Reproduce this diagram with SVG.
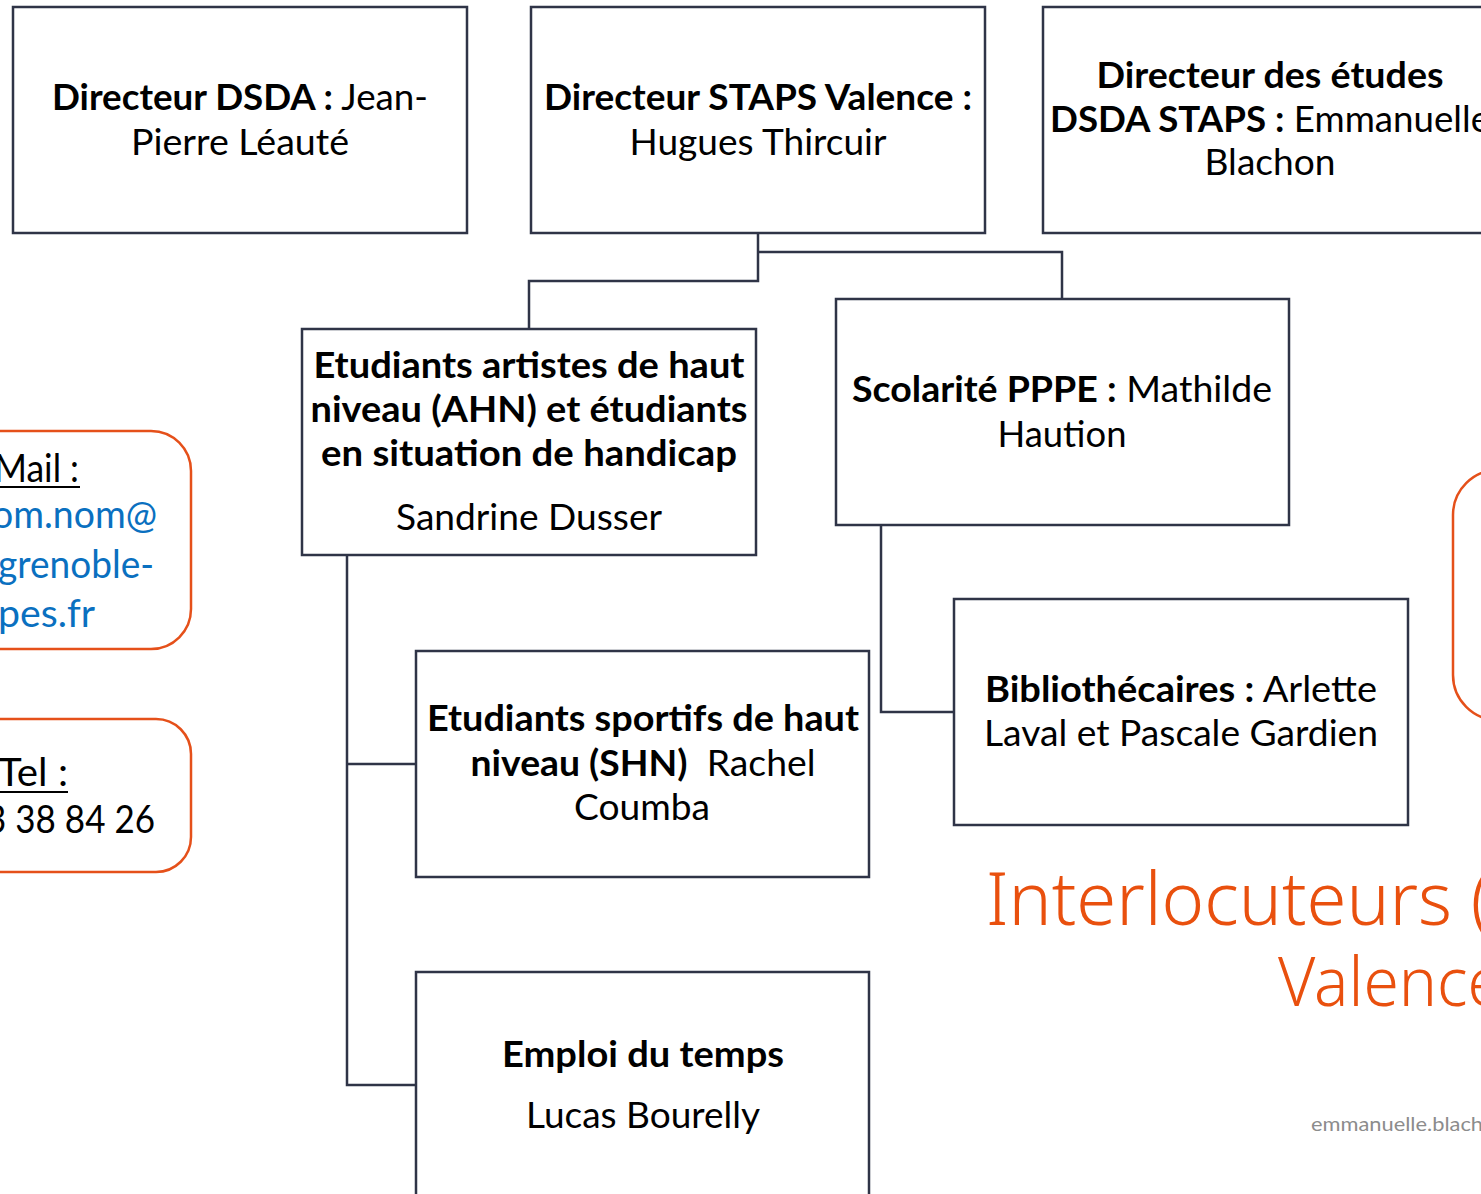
<svg xmlns="http://www.w3.org/2000/svg" width="1481" height="1194" viewBox="0 0 1481 1194">
<style>
.box{fill:#fff;stroke:#2f3447;stroke-width:2.5}
.ob{fill:none;stroke:#e5501a;stroke-width:2.5}
.con{fill:none;stroke:#2f3447;stroke-width:2.5}
.t{font-family:Lato,"Liberation Sans",sans-serif;font-size:36px;fill:#000;text-anchor:middle}
.b{font-weight:bold}
.l{font-family:Lato,"Liberation Sans",sans-serif;font-size:38px;fill:#000}
.blue{fill:#0a70c0}
.hand{font-family:"Noto Sans","DejaVu Sans",sans-serif;font-weight:300;fill:#e9500e}
.foot{font-family:Lato,"Liberation Sans",sans-serif;font-size:20px;fill:#8c8c8c}
</style>
<rect width="1481" height="1194" fill="#fff"/>
<g id="connectors">
<path class="con" d="M758 233 V281 H529 V329"/>
<path class="con" d="M758 252 H1062 V299"/>
<path class="con" d="M347 555 V1085 H416"/>
<path class="con" d="M347 764 H416"/>
<path class="con" d="M881 525 V712 H954"/>
</g>
<g id="dir-dsda">
<rect class="box" x="13" y="7" width="454" height="226"/>
<text class="t" x="240" y="110" textLength="376" lengthAdjust="spacingAndGlyphs"><tspan class="b">Directeur DSDA :</tspan> Jean-</text>
<text class="t" x="240" y="155" textLength="218" lengthAdjust="spacingAndGlyphs">Pierre Léauté</text>
</g>
<g id="dir-staps">
<rect class="box" x="531" y="7" width="454" height="226"/>
<text class="t" x="758" y="110" textLength="428" lengthAdjust="spacingAndGlyphs"><tspan class="b">Directeur STAPS Valence :</tspan></text>
<text class="t" x="758" y="155" textLength="257" lengthAdjust="spacingAndGlyphs">Hugues Thircuir</text>
</g>
<g id="dir-etudes">
<rect class="box" x="1043" y="7" width="454" height="226"/>
<text class="t b" x="1270" y="88" textLength="347" lengthAdjust="spacingAndGlyphs">Directeur des études</text>
<text class="t" x="1270" y="132" textLength="440" lengthAdjust="spacingAndGlyphs"><tspan class="b">DSDA STAPS :</tspan> Emmanuelle</text>
<text class="t" x="1270" y="175" textLength="131" lengthAdjust="spacingAndGlyphs">Blachon</text>
</g>
<g id="ahn">
<rect class="box" x="302" y="329" width="454" height="226"/>
<text class="t b" x="529" y="378" textLength="431" lengthAdjust="spacingAndGlyphs">Etudiants artistes de haut</text>
<text class="t b" x="529" y="422" textLength="437" lengthAdjust="spacingAndGlyphs">niveau (AHN) et étudiants</text>
<text class="t b" x="529" y="466" textLength="416" lengthAdjust="spacingAndGlyphs">en situation de handicap</text>
<text class="t" x="529" y="530" textLength="266" lengthAdjust="spacingAndGlyphs">Sandrine Dusser</text>
</g>
<g id="scolarite">
<rect class="box" x="836" y="299" width="453" height="226"/>
<text class="t" x="1062" y="402" textLength="420" lengthAdjust="spacingAndGlyphs"><tspan class="b">Scolarité PPPE :</tspan> Mathilde</text>
<text class="t" x="1062" y="447" textLength="129" lengthAdjust="spacingAndGlyphs">Haution</text>
</g>
<g id="biblio">
<rect class="box" x="954" y="599" width="454" height="226"/>
<text class="t" x="1181" y="702" textLength="392" lengthAdjust="spacingAndGlyphs"><tspan class="b">Bibliothécaires :</tspan> Arlette</text>
<text class="t" x="1181" y="746" textLength="394" lengthAdjust="spacingAndGlyphs">Laval et Pascale Gardien</text>
</g>
<g id="shn">
<rect class="box" x="416" y="651" width="453" height="226"/>
<text class="t b" x="643" y="731" textLength="432" lengthAdjust="spacingAndGlyphs">Etudiants sportifs de haut</text>
<text class="t" x="643" y="776" textLength="345" lengthAdjust="spacingAndGlyphs"><tspan class="b">niveau (SHN)</tspan>&#160; Rachel</text>
<text class="t" x="642" y="820" textLength="136" lengthAdjust="spacingAndGlyphs">Coumba</text>
</g>
<g id="emploi">
<rect class="box" x="416" y="972" width="453" height="240"/>
<text class="t b" x="643" y="1067" textLength="282" lengthAdjust="spacingAndGlyphs">Emploi du temps</text>
<text class="t" x="643" y="1128" textLength="234" lengthAdjust="spacingAndGlyphs">Lucas Bourelly</text>
</g>
<g id="mail">
<rect class="ob" x="-40" y="431" width="231" height="218" rx="40"/>
<text class="l" x="-6" y="482" textLength="85" lengthAdjust="spacingAndGlyphs">Mail :</text>
<line x1="0" y1="487" x2="80" y2="487" stroke="#000" stroke-width="2"/>
<text class="l blue" x="-8" y="528" textLength="165" lengthAdjust="spacingAndGlyphs">om.nom@</text>
<text class="l blue" x="-2" y="578" textLength="156" lengthAdjust="spacingAndGlyphs">grenoble-</text>
<text class="l blue" x="-2" y="627" textLength="97" lengthAdjust="spacingAndGlyphs">pes.fr</text>
</g>
<g id="tel">
<rect class="ob" x="-40" y="719" width="231" height="153" rx="35"/>
<text class="l" x="-2" y="786" textLength="70" lengthAdjust="spacingAndGlyphs">Tel :</text>
<line x1="0" y1="792" x2="68" y2="792" stroke="#000" stroke-width="2"/>
<text class="l" x="-14" y="833" textLength="169" lengthAdjust="spacingAndGlyphs">3 38 84 26</text>
</g>
<g id="right-box">
<rect class="ob" x="1453" y="470" width="100" height="250" rx="45"/>
</g>
<g id="title">
<text class="hand" x="986" y="925" font-size="74" textLength="505" lengthAdjust="spacingAndGlyphs">Interlocuteurs (</text>
<text class="hand" x="1278" y="1006" font-size="68" textLength="225" lengthAdjust="spacingAndGlyphs">Valence</text>
</g>
<text class="foot" x="1311" y="1131" textLength="172" lengthAdjust="spacingAndGlyphs">emmanuelle.blach</text>
</svg>
